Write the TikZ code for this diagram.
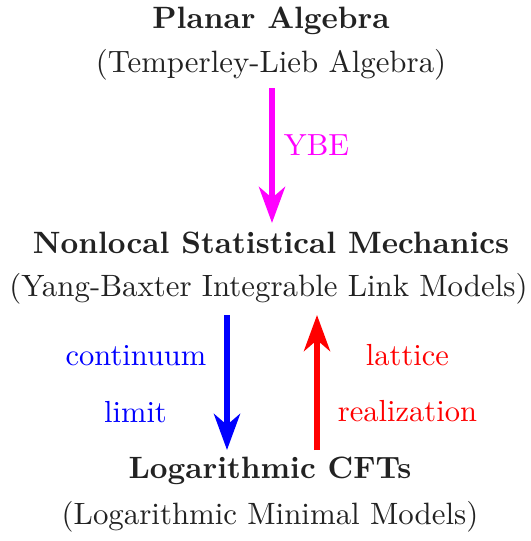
\documentclass[tikz,border=0pt]{standalone}
\usetikzlibrary{arrows.meta}
\definecolor{txt}{HTML}{222222}
\definecolor{mag}{HTML}{FF00FF}
\newcommand{\txtbig}[1]{\scalebox{1.255}{#1}}
\newcommand{\txtmain}[1]{\scalebox{1.27}{#1}}
\begin{document}
\begin{tikzpicture}[x=0.4115pt,y=-0.4115pt,
  every node/.style={inner sep=0pt,outer sep=0pt,anchor=base,font=\fontsize{10}{12}\selectfont},
  title/.style={text=txt,font=\fontsize{10}{12}\selectfont\bfseries},
  sub/.style={text=txt},
  bigarrow/.style={line width=2.47pt,-{Stealth[length=14.8pt,width=10.7pt,inset=4.5pt]}}]
\useasboundingbox (0,0) rectangle (531,541);
\node[title] (pa) at (271,28) {\txtmain{Planar Algebra}};
\node[sub] (tl) at (271,72) {\txtmain{(Temperley-Lieb Algebra)}};
\node[title] (ns) at (271,253) {\txtmain{Nonlocal Statistical Mechanics}};
\node[sub] (yb) at (268.5,296) {\txtmain{(Yang-Baxter Integrable Link Models)}};
\node[title] (lc) at (270,478) {\txtmain{Logarithmic CFTs}};
\node[sub] (lm) at (270,524) {\txtmain{(Logarithmic Minimal Models)}};
\coordinate (m1) at (272,88);
\coordinate (m2) at (272,223);
\coordinate (b1) at (227,315);
\coordinate (b2) at (227,450);
\coordinate (r1) at (317,450);
\coordinate (r2) at (317,315);
\draw[bigarrow,mag] (m1) -- (m2);
\draw[bigarrow,blue] (b1) -- (b2);
\draw[bigarrow,red] (r1) -- (r2);
\node[text=mag] (ybe) at (316.5,155) {\txtbig{YBE}};
\node[text=blue] (cont) at (136,365) {\txtbig{continuum}};
\node[text=blue] (lim) at (135.5,422) {\txtbig{limit}};
\node[text=red] (lat) at (407.5,365) {\txtbig{lattice}};
\node[text=red] (real) at (407.5,421) {\txtbig{realization}};
\end{tikzpicture}
\end{document}
